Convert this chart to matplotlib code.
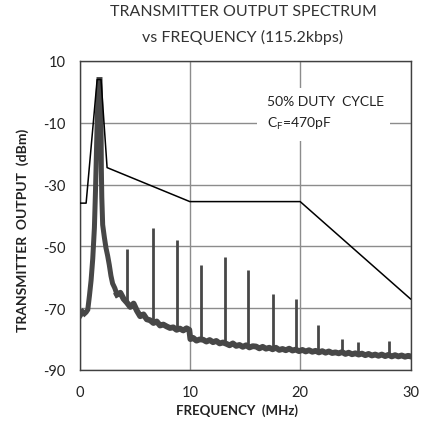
import matplotlib
matplotlib.use("Agg")
import matplotlib.pyplot as plt
from matplotlib.patches import Rectangle

plt.rcParams['font.family'] = ['Lato', 'DejaVu Sans']
plt.rcParams['axes.unicode_minus'] = False

# main carrier peak (MHz, dBm)
peak_freq = [0.0, 0.15, 0.3, 0.45, 0.6, 0.75, 0.9, 1.05, 1.2, 1.35, 1.45, 1.52, 1.6, 1.7,
             1.76, 1.86, 1.92, 1.96, 1.98, 2.02, 2.1, 2.25, 2.4, 2.55, 2.7, 2.85, 3.0, 3.2, 3.4]
peak_db = [-71.0, -72.0, -71.2, -71.8, -71.3, -70.5, -66.0, -61.0, -54.0, -44.0, -32.0, -22.0,
           -10.0, 0.0, 4.0, 4.0, -4.0, -14.0, -25.0, -34.0, -43.0, -47.0, -50.5, -53.0, -56.0,
           -59.5, -62.0, -63.5, -65.6]

# noise floor after the carrier
noise_freq = [3.4, 3.7, 4.0, 4.3, 4.6, 4.9, 5.2, 5.5, 5.8, 6.1, 6.4, 6.7, 7.0, 7.3, 7.6, 7.9,
              8.2, 8.5, 8.8, 9.1, 9.4, 9.7, 9.95, 10.05, 10.3, 10.6, 10.9, 11.2, 11.5, 11.8,
              12.1, 12.4, 12.7, 13.0, 13.3, 13.6, 13.9, 14.2, 14.5, 14.8, 15.1, 15.4, 15.7,
              16.0, 16.3, 16.6, 16.9, 17.2, 17.5, 17.8, 18.1, 18.4, 18.7, 19.0, 19.3, 19.6,
              19.9, 20.2, 20.5, 20.8, 21.1, 21.4, 21.7, 22.0, 22.3, 22.6, 22.9, 23.2, 23.5,
              23.8, 24.1, 24.4, 24.7, 25.0, 25.3, 25.6, 25.9, 26.2, 26.5, 26.8, 27.1, 27.4,
              27.7, 28.0, 28.3, 28.6, 28.9, 29.2, 29.5, 29.8, 30.0]
noise_db = [-65.6, -65.0, -67.0, -68.2, -69.6, -68.5, -70.8, -72.6, -72.0, -73.6, -73.9, -74.8,
            -74.3, -75.6, -75.3, -75.9, -76.4, -76.2, -77.0, -76.6, -77.2, -76.5, -77.0, -80.0,
            -79.6, -80.5, -80.1, -80.2, -80.8, -80.3, -81.0, -80.6, -81.4, -81.1, -81.5, -82.0,
            -81.4, -82.2, -81.9, -82.5, -82.0, -82.7, -82.3, -82.4, -83.0, -82.5, -83.1, -82.8,
            -83.3, -82.8, -83.5, -83.2, -83.6, -83.1, -83.7, -83.4, -83.9, -83.5, -84.0, -83.6,
            -84.1, -83.8, -84.3, -83.9, -84.4, -84.0, -84.5, -84.3, -84.6, -84.2, -84.8, -84.4,
            -84.9, -84.6, -85.0, -84.7, -85.2, -84.8, -85.3, -85.0, -85.4, -85.0, -85.5, -85.1,
            -85.6, -85.2, -85.6, -85.3, -85.7, -85.4, -85.6]

# harmonic spikes
harm_freq = [4.35, 6.7, 8.85, 11.0, 13.15, 15.3, 17.5, 19.6, 21.65, 23.8, 25.2, 28.05]
harm_top = [-51.0, -44.0, -48.0, -56.0, -53.5, -57.5, -65.5, -67.0, -75.4, -80.0, -80.8, -80.5]
harm_base = [-68.5, -75.0, -77.0, -80.5, -81.7, -82.7, -83.0, -83.8, -84.0, -84.8, -85.0, -85.5]

# spectrum limit line
mask_freq = [0, 0.6, 1.6, 1.95, 2.5, 10, 20, 30]
mask_db = [-36, -36, 4, 4, -24.5, -35.5, -35.5, -67]

fig = plt.figure(figsize=(4.22, 4.27), dpi=100)
ax = fig.add_axes([79.5 / 422, (427 - 371) / 427, 331 / 422, 309 / 427])

trace = '#474747'
ax.plot(peak_freq, peak_db, color=trace, lw=3.6, solid_joinstyle='miter', zorder=3)
ax.plot(noise_freq, noise_db, color=trace, lw=4.2, zorder=3)
ax.vlines(harm_freq, harm_base, harm_top, color=trace, lw=2.0, zorder=3)
ax.plot(mask_freq, mask_db, color='black', lw=1.1, zorder=4)

# white box behind the note
ax.add_patch(Rectangle((16.1, -15.8), 12.0, 17.1, facecolor='white', edgecolor='none', zorder=2))
ax.text(17.0, -2.9, "50% DUTY  CYCLE", fontsize=10, color='#222222', va='center', zorder=5)
ax.text(17.0, -10.0, r"C$_\mathregular{F}$=470pF", fontsize=10, color='#222222', va='center', zorder=5)

ax.set_xlim(0, 30)
ax.set_ylim(-90, 10)
ax.set_xticks([0, 10, 20, 30])
ax.set_yticks([10, -10, -30, -50, -70, -90])
ax.tick_params(length=0, labelsize=10.5, labelcolor='#222222')
ax.tick_params(axis='y', pad=10)
ax.tick_params(axis='x', pad=11)
ax.grid(True, color='#8c8c8c', lw=1.0, zorder=1)
ax.set_axisbelow(True)
for s in ax.spines.values():
    s.set_color('#404040')
    s.set_linewidth(1.0)

fig.text(243 / 422, 1 - 12 / 427, "TRANSMITTER OUTPUT SPECTRUM", fontsize=11.5,
         color='#333333', ha='center', va='center')
fig.text(243 / 422, 1 - 37 / 427, "vs FREQUENCY (115.2kbps)", fontsize=11.5,
         color='#333333', ha='center', va='center')
fig.text(23 / 422, 1 - 230 / 427, "TRANSMITTER  OUTPUT  (dBm)", fontsize=10, fontweight='bold',
         color='#222222', rotation=90, ha='center', va='center')
fig.text(237 / 422, 1 - 411 / 427, "FREQUENCY  (MHz)", fontsize=9.5, fontweight='bold',
         color='#222222', ha='center', va='center')

fig.savefig('out.png', dpi=100)
